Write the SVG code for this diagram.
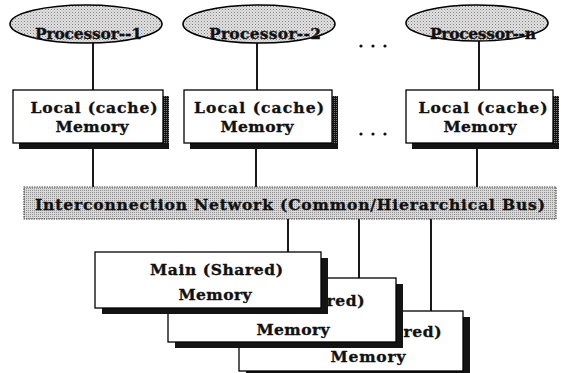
<svg xmlns="http://www.w3.org/2000/svg" width="561" height="373" viewBox="0 0 561 373">
  <defs>
    <pattern id="stipple" width="3" height="3" patternUnits="userSpaceOnUse">
      <rect width="3" height="3" fill="#e2e2e2"/>
      <rect x="0" y="0" width="1" height="1" fill="#808080"/>
      <rect x="1.5" y="1.5" width="1" height="1" fill="#a0a0a0"/>
    </pattern>
    <pattern id="stippleBus" width="2" height="2" patternUnits="userSpaceOnUse">
      <rect width="2" height="2" fill="#d8d8d8"/>
      <rect x="0" y="0" width="1" height="1" fill="#909090"/>
    </pattern>
    <pattern id="stippleDark" width="2" height="2" patternUnits="userSpaceOnUse">
      <rect width="2" height="2" fill="#151515"/>
      <rect x="0" y="0" width="1" height="1" fill="#777"/>
    </pattern>
  </defs>
  <style>
    .proc { fill: url(#stipple); stroke: #000; stroke-width: 1.6; }
    .box { fill: #fff; stroke: #000; stroke-width: 1.3; }
    .shadow { fill: #141414; }
    .shadowDot { fill: url(#stippleDark); }
    .bus { fill: url(#stippleBus); stroke: #444; stroke-width: 1.2; stroke-dasharray: 1.5 1; }
    .wire { stroke: #000; stroke-width: 1.8; fill: none; }
    .lbl { font-family: "DejaVu Serif", "Liberation Serif", serif; font-weight: bold; font-size: 15.5px; fill: #111; stroke: #111; stroke-width: 0.35; }
    .dot { fill: #111; }
  </style>

  <!-- connectors -->
  <g id="connectors">
    <line class="wire" x1="93" y1="43" x2="93" y2="90"/>
    <line class="wire" x1="257" y1="43" x2="257" y2="90"/>
    <line class="wire" x1="479" y1="41" x2="479" y2="90"/>
    <line class="wire" x1="93" y1="148" x2="93" y2="187"/>
    <line class="wire" x1="256" y1="148" x2="256" y2="187"/>
    <line class="wire" x1="477" y1="148" x2="477" y2="187"/>
    <line class="wire" x1="288" y1="219" x2="288" y2="252"/>
    <line class="wire" x1="359" y1="219" x2="359" y2="278"/>
    <line class="wire" x1="431" y1="219" x2="431" y2="311"/>
  </g>

  <!-- processors -->
  <g id="processor-1">
    <ellipse class="proc" cx="86" cy="24" rx="76" ry="19"/>
    <text class="lbl" x="88.5" y="39" text-anchor="middle" textLength="107" lengthAdjust="spacing">Processor--1</text>
  </g>
  <g id="processor-2">
    <ellipse class="proc" cx="259" cy="24" rx="76" ry="19"/>
    <text class="lbl" x="265" y="39" text-anchor="middle" textLength="112" lengthAdjust="spacing">Processor--2</text>
  </g>
  <g id="processor-n">
    <ellipse class="proc" cx="477" cy="23" rx="71" ry="18"/>
    <text class="lbl" x="483" y="39" text-anchor="middle" textLength="106" lengthAdjust="spacing">Processor--n</text>
  </g>
  <g id="dots-top">
    <circle class="dot" cx="361" cy="46" r="1.6"/>
    <circle class="dot" cx="373" cy="46" r="1.6"/>
    <circle class="dot" cx="385" cy="46" r="1.6"/>
  </g>

  <!-- local cache memories: stippled right shadow, dark bottom shadow -->
  <g id="cache-1">
    <rect class="shadowDot" x="163" y="96" width="6" height="53"/>
    <rect class="shadow" x="19" y="143" width="150" height="6"/>
    <rect class="box" x="13" y="90" width="150" height="53"/>
    <text class="lbl" x="94" y="113" text-anchor="middle" textLength="127" lengthAdjust="spacing">Local  (cache)</text>
    <text class="lbl" x="92" y="132" text-anchor="middle" textLength="73" lengthAdjust="spacing">Memory</text>
  </g>
  <g id="cache-2">
    <rect class="shadowDot" x="332" y="96" width="6" height="53"/>
    <rect class="shadow" x="190" y="143" width="148" height="6"/>
    <rect class="box" x="184" y="90" width="148" height="53"/>
    <text class="lbl" x="259" y="113" text-anchor="middle" textLength="130" lengthAdjust="spacing">Local  (cache)</text>
    <text class="lbl" x="257" y="132" text-anchor="middle" textLength="73" lengthAdjust="spacing">Memory</text>
  </g>
  <g id="cache-n">
    <rect class="shadowDot" x="553" y="96" width="6" height="53"/>
    <rect class="shadow" x="412" y="143" width="147" height="6"/>
    <rect class="box" x="406" y="90" width="147" height="53"/>
    <text class="lbl" x="483" y="113" text-anchor="middle" textLength="129" lengthAdjust="spacing">Local  (cache)</text>
    <text class="lbl" x="480" y="132" text-anchor="middle" textLength="73" lengthAdjust="spacing">Memory</text>
  </g>
  <g id="dots-mid">
    <circle class="dot" cx="361" cy="134" r="1.6"/>
    <circle class="dot" cx="373" cy="134" r="1.6"/>
    <circle class="dot" cx="385" cy="134" r="1.6"/>
  </g>

  <!-- interconnection network -->
  <g id="network">
    <rect class="bus" x="24" y="187" width="532" height="32"/>
    <text class="lbl" x="35" y="210" textLength="510" lengthAdjust="spacing">Interconnection  Network  (Common/Hierarchical  Bus)</text>
  </g>

  <!-- shared memory modules, back to front -->
  <g id="shared-3">
    <rect class="shadow" x="246" y="317" width="224" height="60"/>
    <rect class="box" x="239" y="311" width="224" height="60"/>
    <text class="lbl" x="375" y="337" text-anchor="middle" textLength="133" lengthAdjust="spacing">Main (Shared)</text>
    <text class="lbl" x="368" y="362" text-anchor="middle" textLength="75" lengthAdjust="spacing">Memory</text>
  </g>
  <g id="shared-2">
    <rect class="shadow" x="175" y="284" width="228" height="64"/>
    <rect class="box" x="168" y="278" width="228" height="64"/>
    <text class="lbl" x="298" y="306" text-anchor="middle" textLength="133" lengthAdjust="spacing">Main (Shared)</text>
    <text class="lbl" x="293" y="335" text-anchor="middle" textLength="73" lengthAdjust="spacing">Memory</text>
  </g>
  <g id="shared-1">
    <rect class="shadow" x="102" y="258" width="226" height="56"/>
    <rect class="box" x="95" y="252" width="226" height="56"/>
    <text class="lbl" x="216.5" y="275" text-anchor="middle" textLength="133" lengthAdjust="spacing">Main (Shared)</text>
    <text class="lbl" x="215" y="300" text-anchor="middle" textLength="73" lengthAdjust="spacing">Memory</text>
  </g>
</svg>
